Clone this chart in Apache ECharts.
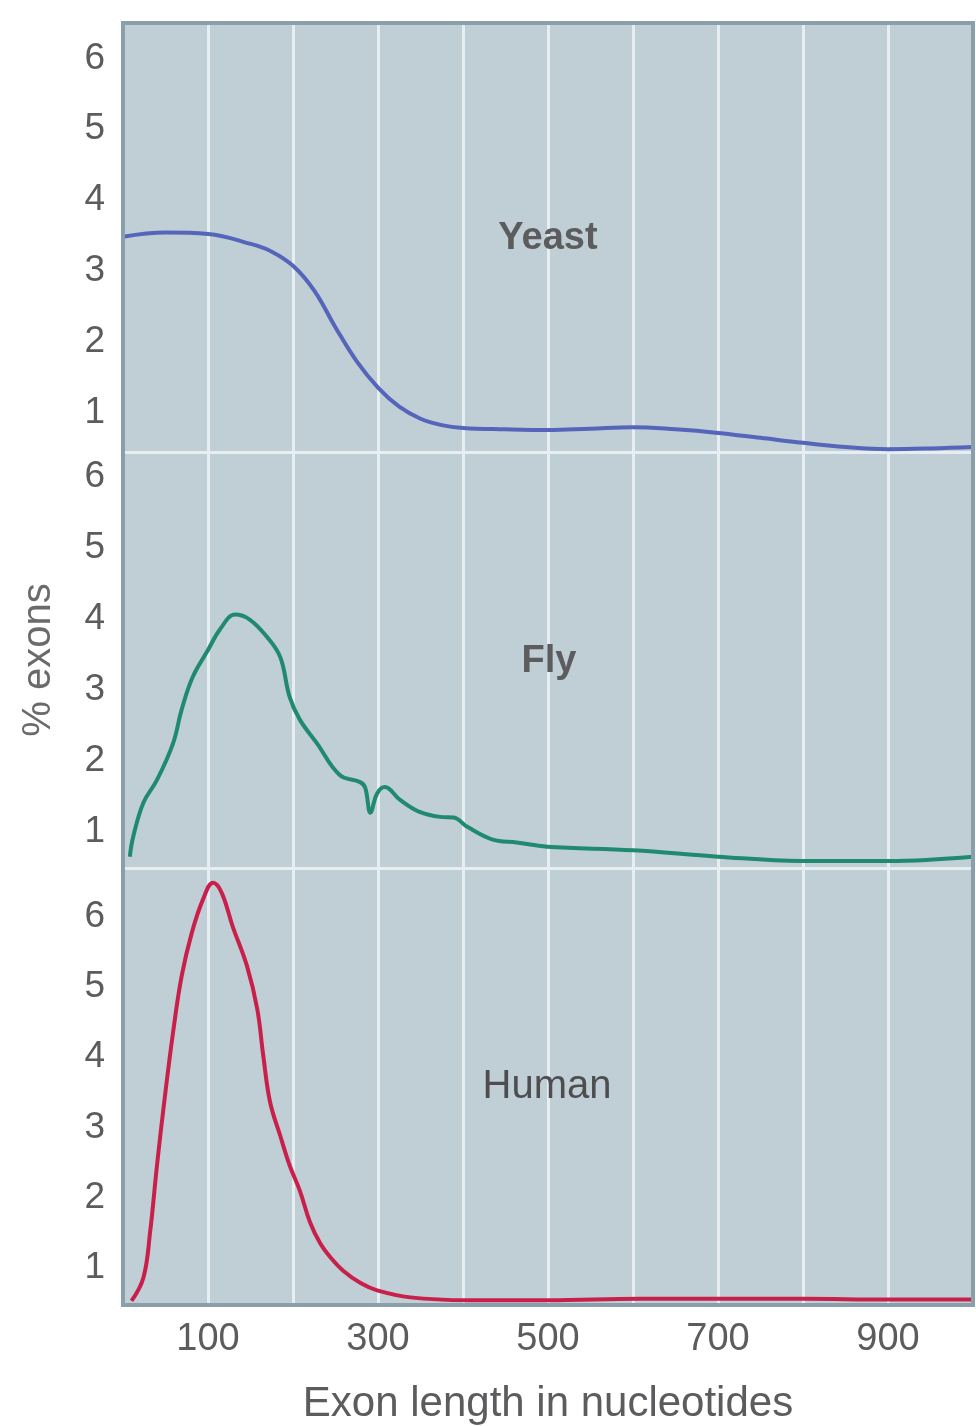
<!DOCTYPE html>
<html>
<head>
<meta charset="utf-8">
<script src="https://cdn.jsdelivr.net/npm/echarts@6/dist/echarts.min.js"></script>
<style>
html,body{margin:0;padding:0;background:#ffffff;}
#chart{width:976px;height:1426px;}
</style>
</head>
<body>
<div id="chart"></div>
<script>
// ---- Data ----
const X_TICK_LABELS = [100, 300, 500, 700, 900];
const Y_TICK_LABELS = [1, 2, 3, 4, 5, 6];
const PANEL_NAMES = ['Yeast', 'Fly', 'Human'];

const YEAST_X = [0, 50, 100, 150, 175, 200, 225, 250, 275, 300, 325, 350, 375, 400, 450, 500, 550, 600, 650, 700, 750, 800, 850, 900, 950, 1000];
const YEAST_Y = [3.48, 3.54, 3.52, 3.38, 3.27, 3.07, 2.72, 2.20, 1.72, 1.35, 1.08, 0.91, 0.82, 0.78, 0.76, 0.75, 0.77, 0.79, 0.76, 0.71, 0.64, 0.57, 0.51, 0.48, 0.49, 0.51];

const FLY_X = [8, 12, 24, 40, 59, 69, 82, 100, 114, 132, 149, 169, 185, 196, 208, 228, 255, 279, 285, 291, 299, 308, 326, 349, 373, 389, 405, 435, 463, 499, 600, 700, 798, 900, 1000];
const FLY_Y = [0.65, 0.93, 1.41, 1.73, 2.25, 2.72, 3.18, 3.56, 3.85, 4.06, 3.99, 3.75, 3.46, 2.90, 2.58, 2.25, 1.80, 1.70, 1.62, 1.27, 1.54, 1.63, 1.45, 1.28, 1.21, 1.20, 1.07, 0.89, 0.85, 0.79, 0.74, 0.65, 0.59, 0.59, 0.65];

const HUMAN_X = [10, 24, 32, 40, 49, 59, 69, 81, 94, 106, 116, 129, 146, 158, 165, 173, 185, 196, 208, 220, 232, 244, 259, 280, 299, 338, 405, 500, 608, 700, 800, 900, 1000];
const HUMAN_Y = [0.53, 0.86, 1.52, 2.46, 3.41, 4.36, 5.15, 5.77, 6.24, 6.48, 6.34, 5.86, 5.29, 4.68, 4.02, 3.36, 2.88, 2.46, 2.10, 1.65, 1.35, 1.15, 0.96, 0.78, 0.68, 0.58, 0.54, 0.54, 0.56, 0.56, 0.56, 0.55, 0.55];

const Y_RANGES = [[0.44, 6.5], [0.49, 6.35], [0.5, 6.69]];

// ---- Styling ----
const BG = '#c0ced6';
const GRIDLINE = '#e6eef2';
const FRAME = '#8b9fab';
const TXT = '#5c5c5e';
const FONT = '"Liberation Sans", Arial, sans-serif';
const COLORS = ['#5565ba', '#1f8a70', '#c8204a'];

const pairs = (xs, ys) => xs.map((x, i) => [x, ys[i]]);
const SERIES_DATA = [pairs(YEAST_X, YEAST_Y), pairs(FLY_X, FLY_Y), pairs(HUMAN_X, HUMAN_Y)];

const grids = [
  {left: 123, right: 3, top: 23, height: 429},
  {left: 123, right: 3, top: 452, height: 416},
  {left: 123, right: 3, top: 868, height: 437}
].map(g => Object.assign({show: true, backgroundColor: BG, borderWidth: 0}, g));
grids.push({left: 123, right: 3, top: 23, height: 1282, show: true, backgroundColor: 'transparent', borderColor: FRAME, borderWidth: 4, z: 5});

const xAxes = [0, 1, 2].map(i => ({
  type: 'value', gridIndex: i, min: 0, max: 1000, interval: 100,
  axisLine: i < 2 ? {show: true, onZero: false, lineStyle: {color: GRIDLINE, width: 3}} : {show: false},
  axisTick: {show: false},
  splitLine: {show: true, lineStyle: {color: GRIDLINE, width: 3}},
  axisLabel: i < 2 ? {show: false} : {
    show: true, margin: 18, fontSize: 38, color: TXT, fontFamily: FONT,
    formatter: v => X_TICK_LABELS.includes(v) ? String(v) : ''
  },
  name: i === 2 ? 'Exon length in nucleotides' : '',
  nameLocation: 'middle', nameGap: 80,
  nameTextStyle: {fontSize: 42, color: TXT, fontFamily: FONT}
}));
xAxes.push({type: 'value', gridIndex: 3, min: 0, max: 1000, show: false});

const yAxes = [0, 1, 2].map(i => ({
  type: 'value', gridIndex: i, min: Y_RANGES[i][0], max: Y_RANGES[i][1],
  axisLine: {show: false}, axisTick: {show: false}, splitLine: {show: false},
  axisLabel: {show: true, customValues: Y_TICK_LABELS, margin: 18, fontSize: 37, color: TXT, fontFamily: FONT,
    formatter: v => String(Math.round(v))},
  name: i === 1 ? '% exons' : '',
  nameLocation: 'middle', nameRotate: 90, nameGap: 64,
  nameTextStyle: {fontSize: 40, color: '#6a6a6c', fontFamily: FONT}
}));
yAxes.push({type: 'value', gridIndex: 3, min: 0, max: 1, show: false});

const series = SERIES_DATA.map((d, i) => ({
  type: 'line', xAxisIndex: i, yAxisIndex: i, data: d,
  smooth: 0.4, showSymbol: false, symbol: 'none',
  lineStyle: {color: COLORS[i], width: 4}, z: 3, silent: true
}));

const LABEL_POS = [[548, 239], [549, 662], [547, 1087]];
const graphic = PANEL_NAMES.map((t, i) => ({
  type: 'text', x: LABEL_POS[i][0], y: LABEL_POS[i][1], z: 10,
  style: {text: t, align: 'center', verticalAlign: 'middle',
    font: (i < 2 ? 'bold 38px ' : '40px ') + FONT, fill: i < 2 ? TXT : '#4e4e50'}
}));

const chart = echarts.init(document.getElementById('chart'), null, {renderer: 'canvas'});
chart.setOption({
  animation: false,
  grid: grids, xAxis: xAxes, yAxis: yAxes, series: series, graphic: graphic
});
</script>
</body>
</html>
